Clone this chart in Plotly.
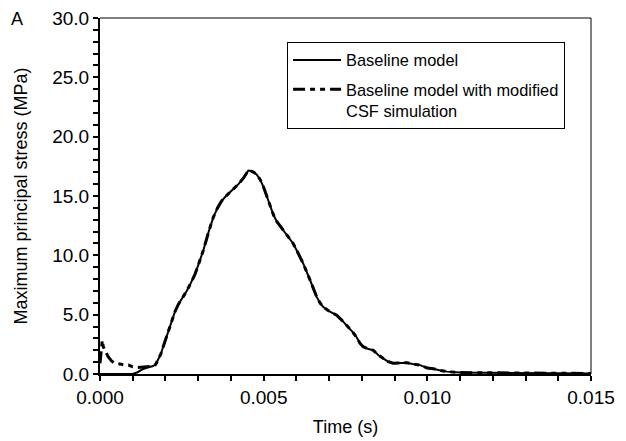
import plotly.graph_objects as go

# ---- data ----
base_t = [0, 0.0005, 0.0010, 0.00115, 0.00130, 0.00145, 0.00160, 0.00170, 0.00178, 0.00186,
          0.00193, 0.00201, 0.00209, 0.00219, 0.00229, 0.00240, 0.00250, 0.00265, 0.00278, 0.00290,
          0.00303, 0.00316, 0.00331, 0.00346, 0.00359, 0.00372, 0.00385, 0.00397, 0.00410, 0.00423,
          0.00438, 0.00446, 0.00453, 0.00462, 0.00470, 0.00479, 0.00489, 0.00499, 0.00509, 0.00519,
          0.00530, 0.00540, 0.00555, 0.00570, 0.00590, 0.00605, 0.00621, 0.00642, 0.00662, 0.00672,
          0.00682, 0.00700, 0.00723, 0.00740, 0.00754, 0.00770, 0.00784, 0.00794, 0.00804, 0.00820,
          0.00835, 0.00850, 0.00866, 0.00880, 0.00896, 0.00915, 0.00937, 0.00955, 0.00978, 0.01000,
          0.01018, 0.01040, 0.01060, 0.01100, 0.01150, 0.01200, 0.01300, 0.01400, 0.01500]
base_stress = [0, 0, 0, 0.15, 0.4, 0.55, 0.65, 0.8, 1.2, 1.7,
               2.3, 3.0, 3.7, 4.5, 5.25, 5.9, 6.3, 7.0, 7.7, 8.4,
               9.4, 10.45, 11.9, 13.2, 14.0, 14.6, 15.0, 15.3, 15.6, 16.0,
               16.5, 16.9, 17.15, 17.1, 17.0, 16.8, 16.4, 15.8, 15.0, 14.1,
               13.4, 12.85, 12.3, 11.7, 11.0, 10.2, 9.3, 7.9, 6.5, 6.0,
               5.65, 5.3, 4.95, 4.5, 4.1, 3.6, 3.1, 2.6, 2.3, 2.1,
               2.0, 1.6, 1.3, 1.05, 0.9, 0.95, 0.95, 0.85, 0.75, 0.5,
               0.45, 0.3, 0.2, 0.12, 0.1, 0.08, 0.08, 0.06, 0.05]

csf_early_t = [0, 0.00003, 0.00007, 0.00010, 0.00015, 0.00020, 0.00025, 0.00035, 0.00046,
               0.00060, 0.00075, 0.00087, 0.00100, 0.00115, 0.00130, 0.00145]
csf_early_stress = [0.9, 1.8, 2.85, 2.3, 2.0, 1.7, 1.45, 1.1, 0.9,
                    0.85, 0.75, 0.75, 0.6, 0.55, 0.6, 0.6]

series_names = ["Baseline model", "Baseline model with modified<br>CSF simulation"]
x_tick_vals = [0, 0.005, 0.010, 0.015]
x_tick_text = ["0.000", "0.005", "0.010", "0.015"]
y_tick_vals = [0, 5, 10, 15, 20, 25, 30]
y_tick_text = ["0.0", "5.0", "10.0", "15.0", "20.0", "25.0", "30.0"]

csf_t = csf_early_t + [t for t in base_t if t >= 0.0016]
csf_stress = csf_early_stress + [s for t, s in zip(base_t, base_stress) if t >= 0.0016]

FONT = "Liberation Sans, Arial, sans-serif"

fig = go.Figure()
fig.add_trace(go.Scatter(x=base_t, y=base_stress, mode="lines", name=series_names[0],
                         line=dict(color="black", width=2), legendgroup="a", cliponaxis=False))
fig.add_trace(go.Scatter(x=csf_t, y=csf_stress, mode="lines", name=series_names[1],
                         line=dict(color="black", width=3, dash="12px,5px,5px,5px,5px,5px"),
                         legendgroup="b", cliponaxis=False))

axis_common = dict(showgrid=False, zeroline=False, showline=True, linecolor="black", linewidth=2,
                   ticks="outside", ticklen=5, tickwidth=1.5, tickcolor="black",
                   ticklabeloverflow="allow", automargin=False,
                   tickfont=dict(family=FONT, size=19, color="black"))

fig.update_xaxes(range=[0, 0.015], tickvals=x_tick_vals, ticktext=x_tick_text,
                 minor=dict(dtick=0.001, tick0=0, ticks="outside", ticklen=5, tickwidth=1.5, tickcolor="black"),
                 title=dict(text="Time (s)", font=dict(family=FONT, size=18, color="black"), standoff=14),
                 **axis_common)
fig.update_yaxes(range=[0, 30], tickvals=y_tick_vals, ticktext=y_tick_text,
                 minor=dict(dtick=1, tick0=0, ticks="outside", ticklen=5, tickwidth=1.5, tickcolor="black"),
                 title=dict(text="Maximum principal stress (MPa)", font=dict(family=FONT, size=18, color="black"), standoff=20),
                 **axis_common)

# thin top and right frame
fig.add_shape(type="line", xref="paper", yref="paper", x0=0, x1=1, y0=1, y1=1,
              line=dict(color="black", width=1))
fig.add_shape(type="line", xref="paper", yref="paper", x0=1, x1=1, y0=0, y1=1,
              line=dict(color="black", width=1))

fig.add_annotation(text="A", xref="paper", yref="paper", x=-0.17, y=0.997, xanchor="center",
                   yanchor="middle", showarrow=False, font=dict(family=FONT, size=18, color="black"))

# page body has an 8px default margin: size the figure so the plot lands where the reference has it
fig.update_layout(
    width=618, height=433,
    margin=dict(l=92, r=35, t=10, b=67, autoexpand=False),
    paper_bgcolor="white", plot_bgcolor="white",
    showlegend=True,
    legend=dict(x=0.381, y=0.933, xanchor="left", yanchor="top", valign="top",
                bordercolor="black", borderwidth=1, bgcolor="white",
                font=dict(family=FONT, size=16.4, color="black"),
                itemwidth=48, tracegroupgap=5),
)

fig.write_html("out.html")
